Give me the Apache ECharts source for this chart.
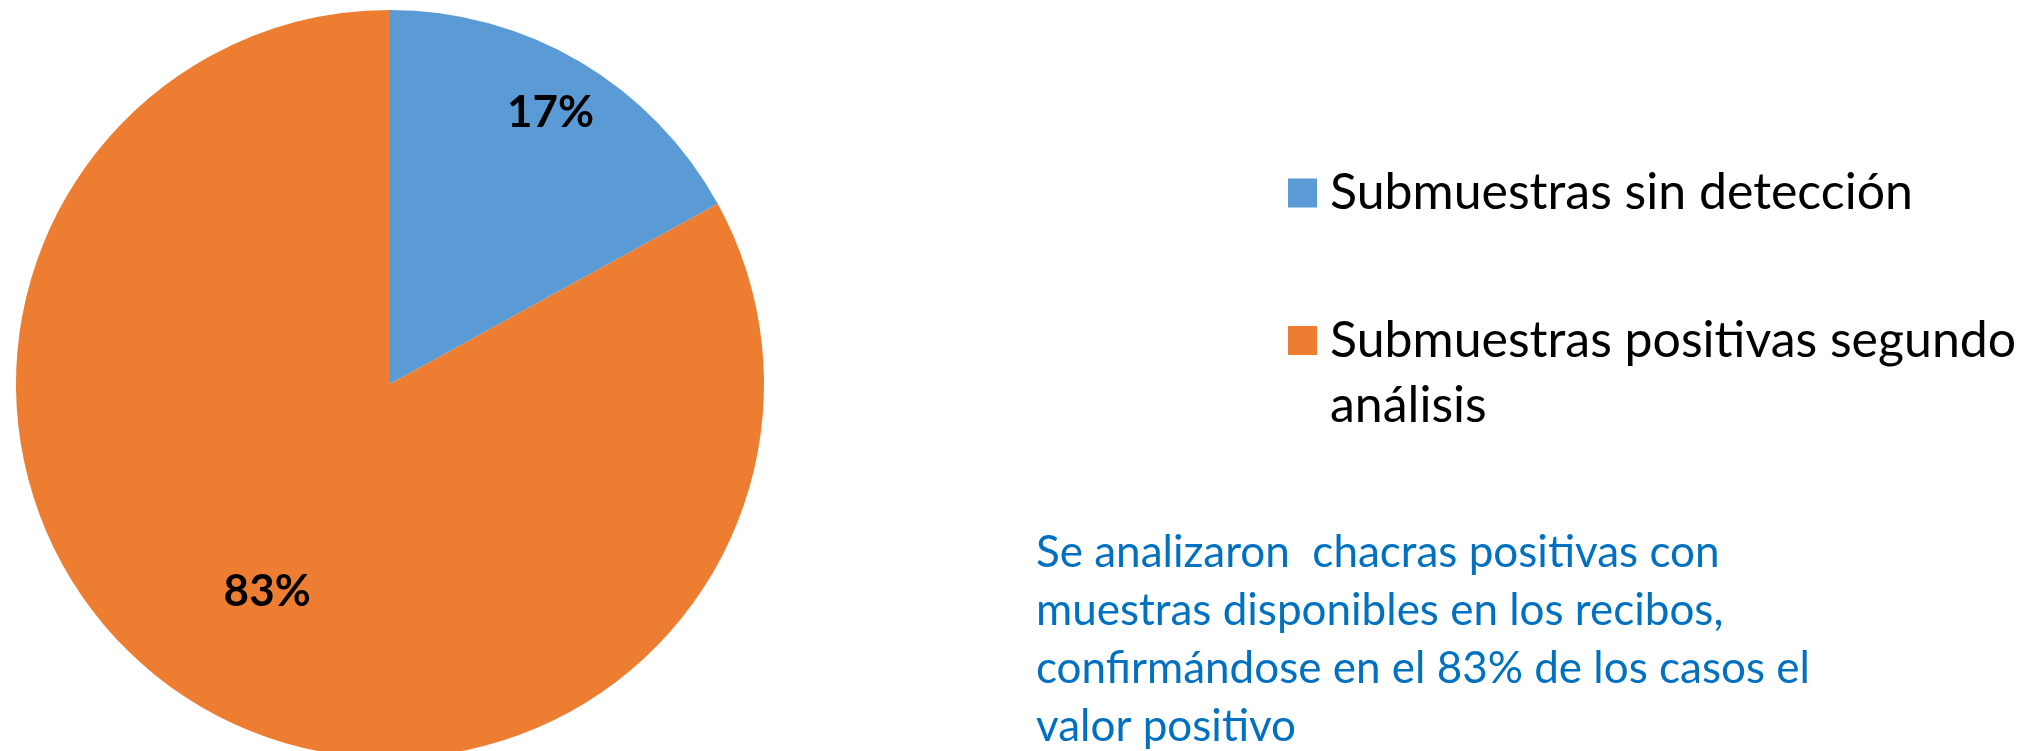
<!DOCTYPE html>
<html>
<head>
<meta charset="utf-8">
<script src="https://cdn.jsdelivr.net/npm/echarts@6/dist/echarts.min.js"></script>
<style>
  html, body { margin: 0; padding: 0; background: #ffffff; }
  #chart { width: 2039px; height: 751px; }
</style>
</head>
<body>
<div id="chart"></div>
<script>
// ---- data ----
const categories = ['Submuestras sin detección', 'Submuestras positivas segundo análisis'];
const values = [17, 83];
const noteLines = [
  'Se analizaron  chacras positivas con',
  'muestras disponibles en los recibos,',
  'confirmándose en el 83% de los casos el',
  'valor positivo'
];

// ---- style / layout ----
const colors = ['#5B9BD5', '#ED7D31'];
const FONT = 'Lato';
const pieCenter = [390, 384];
const pieRadius = 374;
const labelRadiusFactor = [1.66, 1.27]; // label distance relative to mid-radius

const chart = echarts.init(document.getElementById('chart'), null, { renderer: 'canvas' });

const legendText = {
  color: '#000000',
  fontFamily: FONT,
  fontSize: 50,
  lineHeight: 65,
  padding: [0, 0, 0, 8]
};

chart.setOption({
  animation: false,
  color: colors,
  legend: [
    {
      data: [categories[0]],
      orient: 'vertical',
      left: 1288,
      top: 160.5,
      padding: 0,
      icon: 'rect',
      itemWidth: 29,
      itemHeight: 29,
      selectedMode: false,
      textStyle: legendText
    },
    {
      data: [categories[1]],
      orient: 'vertical',
      left: 1288,
      top: 243,
      padding: 0,
      icon: 'rect',
      itemWidth: 29,
      itemHeight: 29,
      selectedMode: false,
      // leading empty line keeps the first text line centred on the icon
      formatter: function (name) { return '\n' + name.replace(' análisis', '\nanálisis'); },
      textStyle: legendText
    }
  ],
  graphic: [
    {
      type: 'text',
      left: 1036,
      top: 524,
      style: {
        text: noteLines.join('\n'),
        fill: '#0070C0',
        font: '44px ' + FONT,
        lineHeight: 58
      }
    }
  ],
  series: [
    {
      type: 'pie',
      center: pieCenter,
      radius: pieRadius,
      startAngle: 90,
      clockwise: true,
      silent: true,
      itemStyle: { borderWidth: 0 },
      label: {
        show: true,
        position: 'inside',
        formatter: '{d}%',
        color: '#000000',
        fontFamily: FONT,
        fontWeight: 'bold',
        fontSize: 44
      },
      labelLine: { show: false },
      labelLayout: function (params) {
        const r = params.labelRect;
        const lx = r.x + r.width / 2;
        const ly = r.y + r.height / 2;
        const f = labelRadiusFactor[params.dataIndex];
        return {
          x: pieCenter[0] + (lx - pieCenter[0]) * f,
          y: pieCenter[1] + (ly - pieCenter[1]) * f
        };
      },
      data: categories.map(function (c, i) { return { name: c, value: values[i] }; })
    }
  ]
});
</script>
</body>
</html>
